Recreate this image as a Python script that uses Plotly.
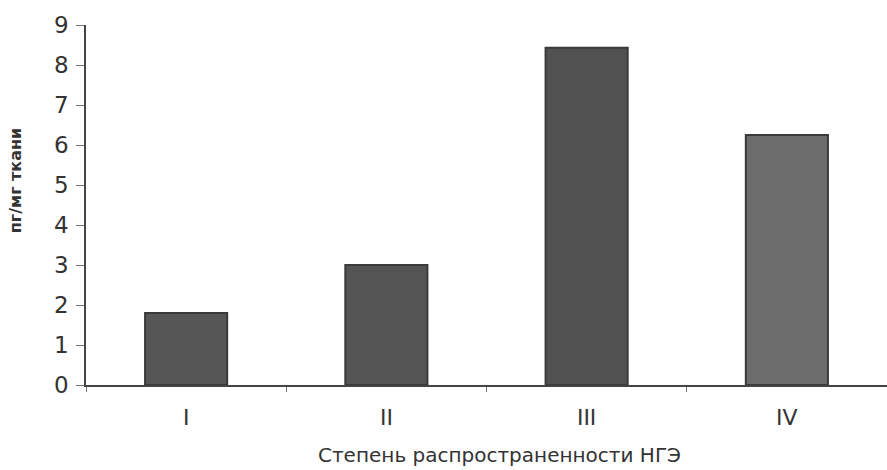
import plotly.graph_objects as go

categories = ["I", "II", "III", "IV"]
values = [1.8, 3.0, 8.43, 6.25]
bar_fill = ["#565656", "#545454", "#515151", "#6c6c6c"]
y_ticks = [0, 1, 2, 3, 4, 5, 6, 7, 8, 9]

fig = go.Figure(go.Bar(
    x=categories, y=values, width=0.41,
    marker=dict(color=bar_fill, line=dict(color="#3a3a3a", width=2)),
))

font_family = "'DejaVu Sans', sans-serif"
text_color = "#333333"
fig.update_layout(
    width=887, height=470,
    margin=dict(l=86, r=0, t=25, b=85),
    paper_bgcolor="white", plot_bgcolor="white",
    showlegend=False,
    font=dict(family=font_family, color=text_color),
)
fig.update_xaxes(
    type="category", range=[-0.5, 3.5], automargin=False,
    showline=True, linecolor="#444444", linewidth=1.5,
    ticks="outside", tickson="boundaries", ticklen=5, tickcolor="#777777",
    tickfont=dict(size=22, color=text_color), ticklabelstandoff=12,
    showgrid=False, zeroline=False,
)
fig.update_yaxes(
    range=[0, 9], tickvals=y_ticks, automargin=False,
    showline=True, linecolor="#444444", linewidth=1.5,
    ticks="outside", ticklen=8, tickcolor="#777777",
    tickfont=dict(size=23, color=text_color), ticklabelstandoff=3,
    showgrid=False, zeroline=False,
)
fig.add_annotation(
    text="<b>пг/мг ткани</b>", textangle=-90,
    xref="paper", yref="paper", x=-0.087, y=0.567,
    xanchor="center", yanchor="middle", showarrow=False,
    font=dict(size=16, color=text_color),
)
fig.add_annotation(
    text="Степень распространенности НГЭ",
    xref="paper", yref="paper", x=0.516, y=-0.194,
    xanchor="center", yanchor="middle", showarrow=False,
    font=dict(size=20, color=text_color),
)

fig.write_html("out.html", config={"displayModeBar": False},
               post_script="document.body.style.margin='0';")
